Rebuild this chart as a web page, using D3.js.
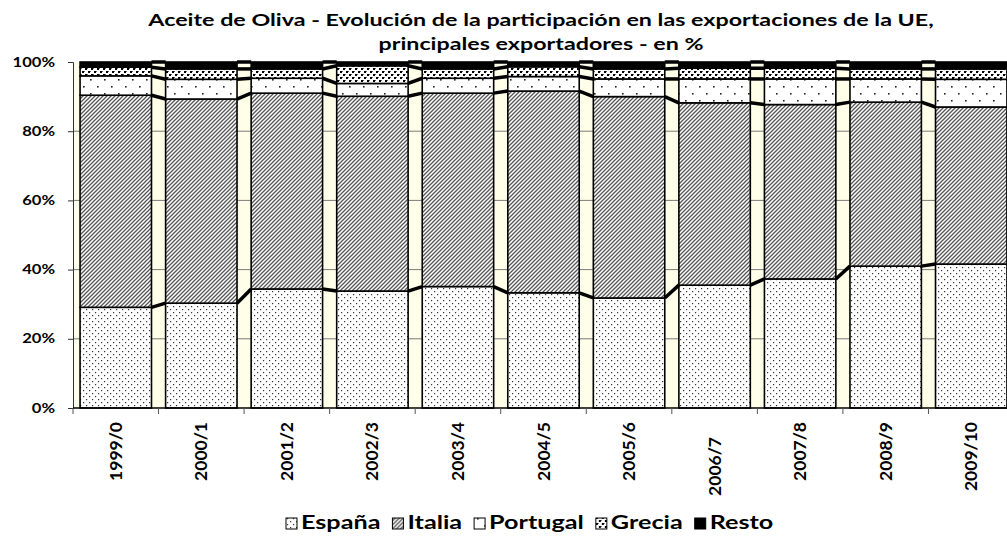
<!DOCTYPE html>
<html>
<head>
<meta charset="utf-8">
<script src="https://cdn.jsdelivr.net/npm/d3@7"></script>
<style>
  body { margin: 0; background: #fff; }
  text { font-family: Lato, "Open Sans", sans-serif; font-weight: bold; fill: #000; }
</style>
</head>
<body>
<svg width="1007" height="540"></svg>
<script>
// campañas
var campaigns = ["1999/0", "2000/1", "2001/2", "2002/3", "2003/4", "2004/5",
                 "2005/6", "2006/7", "2007/8", "2008/9", "2009/10"];

// participación en %
var espana   = [29.1, 30.3, 34.4, 33.8, 35.1, 33.3, 31.8, 35.5, 37.3, 41.0, 41.6];
var italia   = [61.3, 59.0, 56.6, 56.3, 55.9, 58.3, 58.2, 52.7, 50.4, 47.4, 45.4];
var portugal = [ 5.6,  5.7,  4.3,  3.7,  4.3,  4.2,  5.1,  6.9,  7.4,  6.7,  8.0];
var grecia   = [ 2.5,  3.0,  2.7,  5.1,  2.7,  2.8,  2.9,  3.1,  3.1,  2.9,  3.0];
var resto    = [ 1.5,  2.0,  2.0,  1.1,  2.0,  1.4,  2.0,  1.8,  1.8,  2.0,  2.0];

var seriesNames = ["España", "Italia", "Portugal", "Grecia", "Resto"];
var yTicks = [0, 0.2, 0.4, 0.6, 0.8, 1];

var svg = d3.select("svg"),
    margin = {top: 62, left: 73, bottom: 132, right: -7},
    width = +svg.attr("width") - margin.left - margin.right,
    height = +svg.attr("height") - margin.top - margin.bottom;

// the original text is drawn wide, so stretch it sideways
var stretch = 1.33;

// build rows for the stack
var rows = campaigns.map(function(c, i) {
  return {campaign: c, "España": espana[i], "Italia": italia[i], "Portugal": portugal[i],
          "Grecia": grecia[i], "Resto": resto[i]};
});

var stack = d3.stack().keys(seriesNames).offset(d3.stackOffsetExpand);
var layers = stack(rows);

var x = d3.scaleBand().domain(campaigns).range([0, width])
    .paddingInner(0.165).paddingOuter(0.0825);
var y = d3.scaleLinear().domain([0, 1]).range([height, 0]);

//patterns
var defs = svg.append("defs");

var p1 = defs.append("pattern").attr("id", "pEspana").attr("patternUnits", "userSpaceOnUse")
    .attr("width", 6).attr("height", 6);
p1.append("rect").attr("width", 6).attr("height", 6).attr("fill", "#fff");
p1.append("rect").attr("x", 1).attr("y", 1).attr("width", 1.2).attr("height", 1.2).attr("fill", "#333");
p1.append("rect").attr("x", 4).attr("y", 4).attr("width", 1.2).attr("height", 1.2).attr("fill", "#333");

var p2 = defs.append("pattern").attr("id", "pItalia").attr("patternUnits", "userSpaceOnUse")
    .attr("width", 4).attr("height", 4);
p2.append("rect").attr("width", 4).attr("height", 4).attr("fill", "#fff");
p2.append("path").attr("d", "M-1,1 l2,-2 M0,4 l4,-4 M3,5 l2,-2")
    .attr("stroke", "#555").attr("stroke-width", 1.3);

var p3 = defs.append("pattern").attr("id", "pPortugal").attr("patternUnits", "userSpaceOnUse")
    .attr("width", 14).attr("height", 14);
p3.append("rect").attr("width", 14).attr("height", 14).attr("fill", "#fff");
p3.append("rect").attr("x", 3).attr("y", 3).attr("width", 1.6).attr("height", 1.6).attr("fill", "#222");
p3.append("rect").attr("x", 10).attr("y", 10).attr("width", 1.6).attr("height", 1.6).attr("fill", "#222");

var p4 = defs.append("pattern").attr("id", "pGrecia").attr("patternUnits", "userSpaceOnUse")
    .attr("width", 6).attr("height", 6);
p4.append("rect").attr("width", 6).attr("height", 6).attr("fill", "#fff");
p4.append("rect").attr("x", 0).attr("y", 0).attr("width", 2).attr("height", 2).attr("fill", "#000");
p4.append("rect").attr("x", 3).attr("y", 3).attr("width", 2).attr("height", 2).attr("fill", "#000");
p4.append("rect").attr("x", 2).attr("y", 0).attr("width", 1).attr("height", 1).attr("fill", "#666");
p4.append("rect").attr("x", 5).attr("y", 3).attr("width", 1).attr("height", 1).attr("fill", "#666");

var fills = {"España": "url(#pEspana)", "Italia": "url(#pItalia)", "Portugal": "url(#pPortugal)",
             "Grecia": "url(#pGrecia)", "Resto": "#000"};

var g = svg.append("g").attr("transform", "translate(" + margin.left + "," + margin.top + ")");

//plot area background
g.append("rect").attr("width", width).attr("height", height).attr("fill", "#ffffe9");

//gridlines
g.append("g").selectAll("line").data(yTicks.slice(1, -1)).enter().append("line")
    .attr("x1", 0).attr("x2", width)
    .attr("y1", function(d) { return y(d); }).attr("y2", function(d) { return y(d); })
    .attr("stroke", "#7a7a7a").attr("stroke-width", 1);

//bars
g.append("g").selectAll("g").data(layers).enter().append("g")
    .attr("fill", function(d) { return fills[d.key]; })
  .selectAll("rect").data(function(d) { return d; }).enter().append("rect")
    .attr("x", function(d) { return x(d.data.campaign); })
    .attr("width", x.bandwidth())
    .attr("y", function(d) { return y(d[1]); })
    .attr("height", function(d) { return y(d[0]) - y(d[1]); })
    .attr("stroke", "#000").attr("stroke-width", 1.6);

//series lines between bars
var links = [];
layers.forEach(function(layer) {
  for (var i = 0; i < layer.length - 1; i++) {
    links.push({a: layer[i], b: layer[i + 1]});
  }
});
g.append("g").selectAll("line").data(links).enter().append("line")
    .attr("x1", function(d) { return x(d.a.data.campaign) + x.bandwidth(); })
    .attr("y1", function(d) { return y(d.a[1]); })
    .attr("x2", function(d) { return x(d.b.data.campaign); })
    .attr("y2", function(d) { return y(d.b[1]); })
    .attr("stroke", "#000").attr("stroke-width", 3.5);

//axes
var yAxis = g.append("g")
    .call(d3.axisLeft(y).tickValues(yTicks).tickFormat(d3.format(".0%")).tickSizeOuter(0).tickSize(5));
yAxis.select(".domain").attr("stroke", "#333");
yAxis.selectAll(".tick line").attr("stroke", "#333");
yAxis.selectAll("text").attr("font-size", 12.5)
    .attr("x", -18 / stretch)
    .attr("transform", "scale(" + stretch + ",1)");

var xAxis = g.append("g").attr("transform", "translate(0," + height + ")");
xAxis.append("line").attr("x1", 0).attr("x2", width).attr("stroke", "#000").attr("stroke-width", 1.5);
xAxis.selectAll("line.tk").data(campaigns).enter().append("line").attr("class", "tk")
    .attr("x1", function(d) { return x(d) - x.step() * x.paddingInner() / 2; })
    .attr("x2", function(d) { return x(d) - x.step() * x.paddingInner() / 2; })
    .attr("y1", 0).attr("y2", 6).attr("stroke", "#555");
xAxis.selectAll("text").data(campaigns).enter().append("text")
    .attr("transform", function(d) {
      var off = d == "2006/7" ? 15 : 0;
      return "translate(" + (x(d) + x.bandwidth() / 2 + 6) + "," + (14 + off) + ") rotate(-90)";
    })
    .attr("text-anchor", "end")
    .attr("font-size", 17.5)
    .text(function(d) { return d; });

//title
var titleLines = ["Aceite de Oliva - Evolución de la participación en las exportaciones de la UE,",
                  "principales exportadores - en %"];
svg.selectAll("text.title").data(titleLines).enter().append("text").attr("class", "title")
    .attr("transform", function(d, i) { return "translate(541," + (26 + i * 24) + ") scale(" + stretch + ",1)"; })
    .attr("text-anchor", "middle").attr("font-size", 17.5)
    .text(function(d) { return d; });

//legend
var legend = svg.append("g").attr("transform", "translate(286,529)");
var lx = 0;
seriesNames.forEach(function(name) {
  var item = legend.append("g").attr("transform", "translate(" + lx + ",0)");
  item.append("rect").attr("x", 0).attr("y", -11).attr("width", 11).attr("height", 11)
      .attr("fill", fills[name]).attr("stroke", "#000").attr("stroke-width", 1);
  var t = item.append("text").attr("transform", "translate(15,0) scale(1.4,1)")
      .attr("font-size", 18).text(name);
  lx += 15 + t.node().getComputedTextLength() * 1.4 + 12;
});
</script>
</body>
</html>
